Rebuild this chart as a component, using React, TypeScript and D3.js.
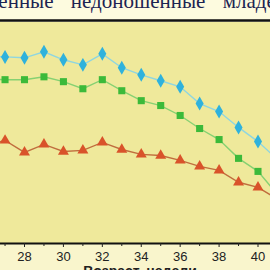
import React, { useEffect, useRef } from 'react';
import * as d3 from 'd3';

const weeks = [26, 27, 28, 29, 30, 31, 32, 33, 34, 35, 36, 37, 38, 39, 40, 41];
const seriesTop = [84.5, 84.2, 83.8, 86.5, 82.9, 80.6, 85.6, 79.3, 76.1, 73.4, 70.7, 63.1, 59.5, 52.3, 45.9, 37.8];
const seriesMid = [74.2, 73.9, 73.9, 75.2, 73.0, 69.8, 73.9, 68.9, 64.4, 62.2, 57.7, 51.8, 46.8, 38.3, 32.4, 22.0];
const seriesLow = [44.0, 46.4, 41.0, 44.6, 41.4, 41.9, 45.5, 42.3, 40.1, 39.6, 37.4, 34.7, 32.9, 27.5, 25.2, 19.8];
const tickValues = [28, 30, 32, 34, 36, 38, 40];
const titleText = 'Рожденные недоношенные младенцы';
const axisTitle = 'Возраст, недели';

const W = 270;
const H = 270;

export default function App() {
  const ref = useRef<SVGSVGElement | null>(null);

  useEffect(() => {
    const svg = d3.select(ref.current);
    svg.selectAll('*').remove();

    const plotTop = 22;
    const plotBottom = 243;

    const x = d3.scaleLinear().domain([28, 40]).range([24.5, 258]);
    const y = d3.scaleLinear().domain([0, 100]).range([plotBottom, plotTop]);

    // page background
    svg.append('rect').attr('width', W).attr('height', H).attr('fill', '#f9f5cc');
    svg.append('rect').attr('width', W).attr('height', plotTop).attr('fill', '#fdfbdf');
    svg.append('rect').attr('x', 0).attr('y', plotTop).attr('width', W)
      .attr('height', plotBottom - plotTop).attr('fill', '#efe99b');

    svg.append('text')
      .attr('x', -48).attr('y', 8)
      .attr('font-family', '"Liberation Serif", "DejaVu Serif", serif')
      .attr('font-size', 21)
      .attr('fill', '#1c2352')
      .attr('word-spacing', 12)
      .text(titleText);

    svg.append('line')
      .attr('x1', 0).attr('x2', W).attr('y1', 20.5).attr('y2', 20.5)
      .attr('stroke', '#111').attr('stroke-width', 2.5);

    const clip = svg.append('defs').append('clipPath').attr('id', 'plotclip');
    clip.append('rect').attr('x', 0).attr('y', plotTop).attr('width', W).attr('height', plotBottom - plotTop);

    const g = svg.append('g').attr('clip-path', 'url(#plotclip)');

    const line = d3.line<number>()
      .x((_, i) => x(weeks[i]))
      .y((d) => y(d));

    const series = [
      { values: seriesTop, line: '#8fd6e0', mark: '#2fb2dc', symbol: d3.symbolDiamond, size: 56 },
      { values: seriesMid, line: '#86d172', mark: '#3cba3a', symbol: d3.symbolSquare, size: 50 },
      { values: seriesLow, line: '#c06e3e', mark: '#d9532a', symbol: d3.symbolTriangle, size: 52 },
    ];

    series.forEach((s) => {
      g.append('path')
        .attr('d', line(s.values))
        .attr('fill', 'none')
        .attr('stroke', s.line)
        .attr('stroke-width', 1.4);
      g.selectAll(null)
        .data(s.values)
        .enter()
        .append('path')
        .attr('transform', (d, i) => `translate(${x(weeks[i])},${y(d)})`)
        .attr('d', d3.symbol().type(s.symbol).size(s.size)())
        .attr('fill', s.mark);
    });

    // x axis
    const axisG = svg.append('g').attr('transform', `translate(0,${plotBottom})`);
    axisG.append('line')
      .attr('x1', 0).attr('x2', W).attr('y1', 0.5).attr('y2', 0.5)
      .attr('stroke', '#111').attr('stroke-width', 2.2);
    axisG.selectAll('.minor')
      .data(d3.range(27, 42))
      .enter()
      .append('line')
      .attr('x1', (d) => x(d)).attr('x2', (d) => x(d))
      .attr('y1', 0).attr('y2', (d) => (d % 2 === 0 ? 4 : 3))
      .attr('stroke', '#222').attr('stroke-width', 1);
    axisG.selectAll('.lbl')
      .data(tickValues)
      .enter()
      .append('text')
      .attr('x', (d) => x(d))
      .attr('y', 18)
      .attr('text-anchor', 'middle')
      .attr('font-family', '"Liberation Sans", Arial, sans-serif')
      .attr('font-size', 13)
      .attr('fill', '#222')
      .text((d) => d);

    svg.append('text')
      .attr('x', 140).attr('y', 276)
      .attr('text-anchor', 'middle')
      .attr('font-family', '"Liberation Sans", Arial, sans-serif')
      .attr('font-weight', 'bold')
      .attr('font-size', 14)
      .attr('fill', '#222')
      .text(axisTitle);
  }, []);

  return (
    <svg
      ref={ref}
      width={W}
      height={H}
      style={{ position: 'absolute', left: 0, top: 0, display: 'block' }}
    />
  );
}
